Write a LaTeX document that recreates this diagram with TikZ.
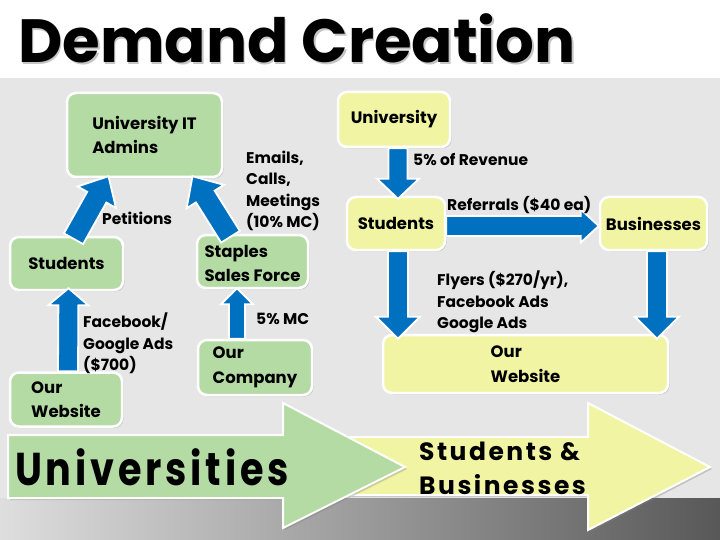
\documentclass[tikz,border=0pt]{standalone}
\usepackage{fontspec}
\setmainfont{Poppins}
\newfontfamily\spacedfont[LetterSpace=10]{Poppins}
\usetikzlibrary{shadows,calc}
\definecolor{bggray}{RGB}{230,230,230}
\definecolor{ngreen}{RGB}{181,219,165}
\definecolor{nyellow}{RGB}{241,245,163}
\definecolor{ablue}{RGB}{0,112,192}
\definecolor{bandL}{RGB}{222,222,222}
\definecolor{bandR}{RGB}{88,88,88}
\newcommand{\boxfnt}{\bfseries\fontsize{16.5}{24.5}\selectfont}
\newcommand{\labfnt}{\bfseries\fontsize{15.5}{21.3}\selectfont}
\newcommand{\stubusfnt}{\spacedfont\bfseries\fontsize{25}{34}\selectfont}
\newcommand{\blockarr}[5]{%
  \coordinate (neckpt) at ($(#2)!#5!(#1)$);
  \draw[barrow] ($(#1)!#3!90:(#2)$) -- ($(neckpt)!#3!90:(#2)$) -- ($(neckpt)!#4!90:(#2)$)
    -- (#2) -- ($(neckpt)!#4!-90:(#2)$) -- ($(neckpt)!#3!-90:(#2)$) -- ($(#1)!#3!-90:(#2)$) -- cycle;
}
\begin{document}
\begin{tikzpicture}[x=1pt,y=-1pt,
  box/.style={draw=white, line width=2.5pt, rounded corners=9pt, align=left, font=\boxfnt, inner sep=0pt,
    drop shadow={opacity=0.3,shadow xshift=1.5pt,shadow yshift=-1.5pt}},
  gbox/.style={box, fill=ngreen},
  ybox/.style={box, fill=nyellow},
  lbl/.style={align=left, anchor=north west, font=\labfnt, inner sep=0pt},
  barrow/.style={fill=ablue, draw=white, line width=1.8pt, line join=miter},
  bigarrow/.style={draw=white, line width=2pt, line join=miter,
    drop shadow={opacity=0.35,shadow xshift=2pt,shadow yshift=-2pt}}
]
\useasboundingbox (0,0) rectangle (720,540);
% backgrounds
\fill[white] (0,0) rectangle (720,78);
\fill[bggray] (0,78) rectangle (720,498);
\shade[left color=bandL, right color=bandR] (0,498) rectangle (720,540);
% title
\node[anchor=base west, inner sep=0pt, text=black!45, opacity=0.5] (titleshadow) at (19.5,64.5)
  {\bfseries\fontsize{61}{61}\selectfont Demand Creation};
\node[anchor=base west, inner sep=0pt] (title) at (18,63)
  {\bfseries\fontsize{61}{61}\selectfont Demand Creation};
% left boxes
\node[gbox, minimum width=155pt, minimum height=84pt] (admin) at (144.5,135) {University IT\\Admins};
\node[gbox, minimum width=113pt, minimum height=53pt] (stuL) at (66.5,263.5) {Students};
\node[gbox, minimum width=111pt, minimum height=53pt] (stap) at (252.5,261.5) {\rule{0pt}{16pt}Staples\\Sales Force};
\node[gbox, minimum width=114pt, minimum height=55pt] (comp) at (255,367.5) {Our\\Company};
\node[gbox, minimum width=112pt, minimum height=54pt] (webL) at (66,399.5) {Our\\Website};
% right boxes
\node[ybox, minimum width=112pt, minimum height=55pt] (uni) at (394,119.5) {University};
\node[ybox, minimum width=98pt, minimum height=53pt] (stuR) at (396,223.5) {Students};
\node[ybox, minimum width=107pt, minimum height=53pt] (bus) at (653.5,223.5) {Businesses};
\node[ybox, minimum width=285pt, minimum height=58pt] (webR) at (525.5,364) {Our\\Website};
% connector ends
\coordinate (a1t) at ([xshift=2pt]webL.north);
\coordinate (a1h) at ([xshift=2pt,yshift=3pt]stuL.south);
\coordinate (a2t) at ([xshift=-18pt]comp.north);
\coordinate (a2h) at ([xshift=-15.5pt,yshift=1pt]stap.south);
\coordinate (a3t) at ([xshift=7pt,yshift=-3pt]stuL.north);
\coordinate (a3h) at ([xshift=-36pt,yshift=2pt]admin.south);
\coordinate (a4t) at ([xshift=-22pt,yshift=-3pt]stap.north);
\coordinate (a4h) at ([xshift=48pt,yshift=2pt]admin.south);
\coordinate (a5t) at ([xshift=4pt]uni.south);
\coordinate (a5h) at ([xshift=2pt,yshift=-3pt]stuR.north);
\coordinate (a6t) at ([yshift=-2.5pt]stuR.east);
\coordinate (a6h) at ([yshift=-2.5pt]bus.west);
\coordinate (a7t) at ([xshift=2pt]stuR.south);
\coordinate (a7h) at ([xshift=-127.5pt,yshift=-5pt]webR.north);
\coordinate (a8t) at ([xshift=3.5pt]bus.south);
\coordinate (a8h) at ([xshift=131.5pt,yshift=-5pt]webR.north);
% block arrows
\blockarr{a1t}{a1h}{10pt}{20pt}{17pt}
\blockarr{a2t}{a2h}{8pt}{16pt}{16pt}
\blockarr{a3t}{a3h}{11pt}{22pt}{24pt}
\blockarr{a4t}{a4h}{11pt}{22pt}{24pt}
\blockarr{a5t}{a5h}{9.5pt}{21pt}{20pt}
\blockarr{a6t}{a6h}{10pt}{16.5pt}{18pt}
\blockarr{a7t}{a7h}{10pt}{22pt}{22pt}
\blockarr{a8t}{a8h}{10pt}{22pt}{22pt}
% labels
\node[lbl] (lpet) at (102,212) {Petitions};
\node[lbl] (lemail) at (246,151) {Emails,\\Calls,\\Meetings\\(10\% MC)};
\node[lbl] (lfb) at (83,313) {Facebook/\\Google Ads\\(\$700)};
\node[lbl] (lmc) at (256,313) {5\% MC};
\node[lbl] (lrev) at (413,153) {5\% of Revenue};
\node[lbl] (lref) at (447,196) {Referrals (\$40 ea)};
\node[lbl] (lfly) at (437,271) {Flyers (\$270/yr),\\Facebook Ads\\Google Ads};
% bottom arrows
\draw[bigarrow, fill=nyellow] (350,437) -- (588,437) -- (588,403) -- (710,467) -- (588,530) -- (588,495) -- (350,495) -- cycle;
\draw[bigarrow, fill=ngreen] (8,435) -- (283,435) -- (283,403) -- (405,467) -- (283,528) -- (283,498) -- (8,498) -- cycle;
\node[anchor=base west, inner sep=0pt] (univs) at (15,485)
  {\scalebox{0.83}[1]{\spacedfont\bfseries\fontsize{46}{46}\selectfont Universities}};
\node[anchor=north west, inner sep=0pt, align=left, font=\stubusfnt] (stubus) at (419,442)
  {Students \&\\Businesses};
\end{tikzpicture}
\end{document}
